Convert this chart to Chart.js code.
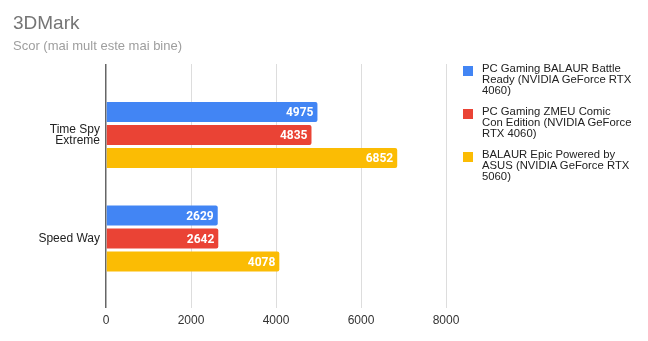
<!DOCTYPE html>
<html>
<head>
<meta charset="utf-8">
<script src="https://cdn.jsdelivr.net/npm/chart.js@4"></script>
<style>
  body { margin: 0; background: #fff; }
  #wrap { position: relative; width: 648px; height: 341px; }
  #legend { position: absolute; left: 463px; top: 63px; font-family: "Liberation Sans", Arial, sans-serif; font-size: 11.3px; color: #222; }
  .item { position: relative; padding-left: 19px; white-space: nowrap; line-height: 11px; margin-bottom: 10px; }
  .sw { position: absolute; left: 0; top: 3px; width: 10px; height: 10px; }
</style>
</head>
<body>
<div id="wrap">
  <canvas id="myChart" width="648" height="341"></canvas>
  <div id="legend"></div>
</div>
<script>
const titleText = '3DMark';
const subtitleText = 'Scor (mai mult este mai bine)';
const categories = [['Time Spy', 'Extreme'], ['Speed Way']];
// numele seriilor, pe randuri ca in legenda
const seriesNames = [
    ['PC Gaming BALAUR Battle', 'Ready (NVIDIA GeForce RTX', '4060)'],
    ['PC Gaming ZMEU Comic', 'Con Edition (NVIDIA GeForce', 'RTX 4060)'],
    ['BALAUR Epic Powered by', 'ASUS (NVIDIA GeForce RTX', '5060)']
];
const balaurBattle = [4975, 2629];
const zmeuComic = [4835, 2642];
const balaurEpic = [6852, 4078];
const xTicks = [0, 2000, 4000, 6000, 8000];
const colors = ['#4285F4', '#EA4335', '#FBBC04'];

const seriesValues = [balaurBattle, zmeuComic, balaurEpic];

// legenda in HTML
const legend = document.getElementById('legend');
seriesNames.forEach((lines, i) => {
    const div = document.createElement('div');
    div.className = 'item';
    const sw = document.createElement('span');
    sw.className = 'sw';
    sw.style.background = colors[i];
    div.appendChild(sw);
    lines.forEach((l, k) => {
        if (k > 0) div.appendChild(document.createElement('br'));
        div.appendChild(document.createTextNode(l));
    });
    legend.appendChild(div);
});

// titlu + etichete pe bare
const extras = {
    id: 'extras',
    afterDraw(chart) {
        const ctx = chart.ctx;
        ctx.save();
        ctx.textBaseline = 'alphabetic';
        ctx.textAlign = 'left';
        ctx.fillStyle = '#757575';
        ctx.font = '19px "Liberation Sans", Arial, sans-serif';
        ctx.fillText(titleText, 13, 29);
        ctx.fillStyle = '#9e9e9e';
        ctx.font = '13px "Liberation Sans", Arial, sans-serif';
        ctx.fillText(subtitleText, 13, 50);

        ctx.fillStyle = '#fff';
        ctx.font = 'bold 12px Roboto, sans-serif';
        ctx.textAlign = 'right';
        ctx.textBaseline = 'middle';
        chart.data.datasets.forEach((ds, i) => {
            chart.getDatasetMeta(i).data.forEach((bar, j) => {
                ctx.fillText(String(ds.data[j].x), bar.x - 4, bar.y + 1);
            });
        });
        ctx.restore();
    }
};

new Chart(document.getElementById('myChart').getContext('2d'), {
    type: 'bar',
    data: {
        datasets: seriesNames.map((lines, i) => ({
            label: lines.join(' '),
            data: seriesValues[i].map((v, j) => ({ x: v, y: j })),
            backgroundColor: colors[i],
            borderRadius: 2,
            borderSkipped: 'start',
            categoryPercentage: 0.667,
            barPercentage: 0.87
        }))
    },
    options: {
        indexAxis: 'y',
        responsive: false,
        animation: false,
        layout: { padding: { top: 64, right: 202, left: 0, bottom: 0 } },
        plugins: {
            legend: { display: false },
            tooltip: { enabled: false }
        },
        scales: {
            x: {
                type: 'linear',
                min: 0,
                max: 8000,
                afterBuildTicks: s => { s.ticks = xTicks.map(v => ({ value: v })); },
                afterFit: s => { s.height = 33; },
                grid: {
                    color: c => c.tick && c.tick.value === 0 ? '#666' : '#ddd',
                    lineWidth: c => c.tick && c.tick.value === 0 ? 1.5 : 1,
                    drawTicks: false
                },
                border: { display: false },
                ticks: {
                    padding: 5,
                    color: '#333',
                    font: { family: '"Liberation Sans", Arial, sans-serif', size: 12 },
                    callback: v => String(v)
                }
            },
            y: {
                type: 'linear',
                reverse: true,
                offset: false,
                min: -0.686,
                max: 1.671,
                afterBuildTicks: s => { s.ticks = categories.map((c, i) => ({ value: i })); },
                afterFit: s => { s.width = 106; },
                grid: { display: false, offset: false, drawTicks: false, tickLength: 0 },
                border: { display: false },
                ticks: {
                    padding: 6,
                    color: '#222',
                    font: { family: '"Liberation Sans", Arial, sans-serif', size: 12, lineHeight: 0.95 },
                    callback: v => categories[v]
                }
            }
        }
    },
    plugins: [extras]
});
</script>
</body>
</html>
